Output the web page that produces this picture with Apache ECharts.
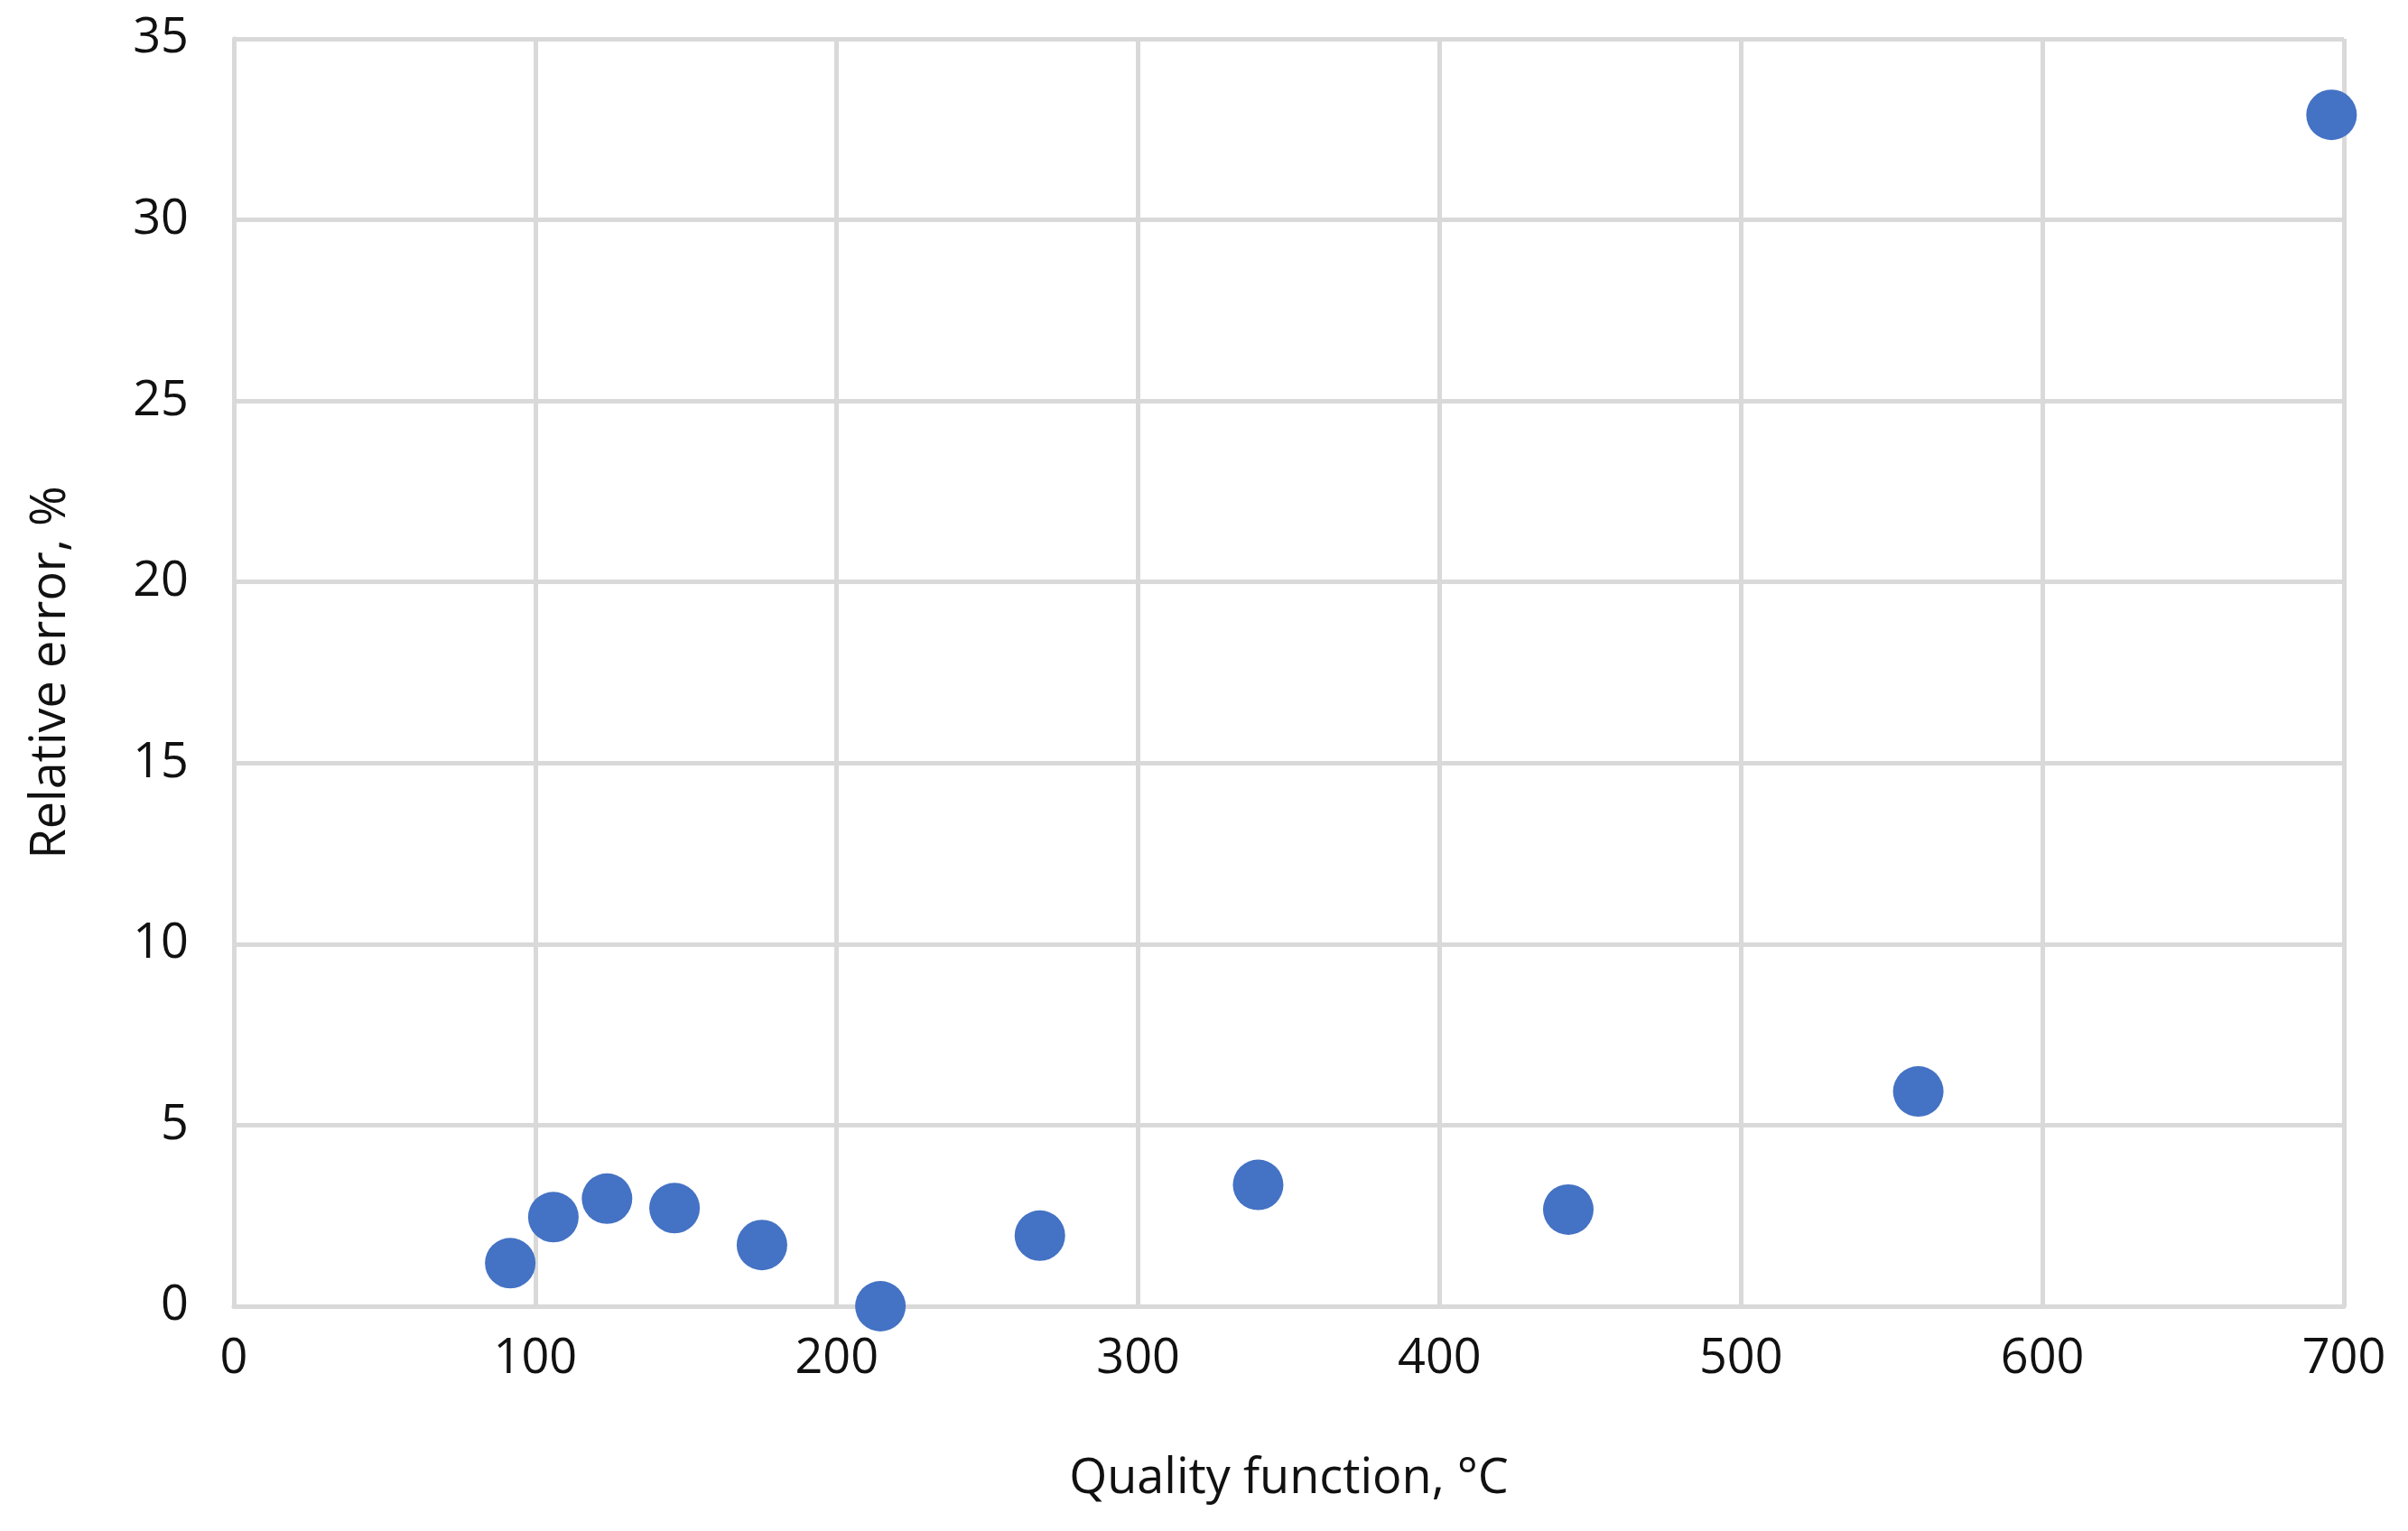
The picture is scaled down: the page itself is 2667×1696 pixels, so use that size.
<!DOCTYPE html>
<html><head><meta charset="utf-8">
<script src="https://cdn.jsdelivr.net/npm/echarts@6/dist/echarts.min.js"></script>
<style>html,body{margin:0;padding:0;background:#fff}#c{width:2667px;height:1696px}</style>
</head><body><div id="c"></div>
<script>
const xValues = [91.7, 106, 123.8, 146.2, 175.2, 214.5, 267.4, 339.8, 442.7, 558.8, 695.9];
const yValues = [1.19, 2.46, 2.97, 2.71, 1.69, 0, 1.95, 3.35, 2.67, 5.93, 32.9];
const xTitle = 'Quality function, °C';
const yTitle = 'Relative error, %';
const chart = echarts.init(document.getElementById('c'));
const font = 'Open Sans';
const txt = '#111';
const grid = {lineStyle:{color:'#d9d9d9',width:5}};
chart.setOption({
  animation:false,
  grid:{left:259,right:71,top:43,bottom:249},
  xAxis:{type:'value',min:0,max:700,interval:100,name:xTitle,nameLocation:'middle',nameGap:165,
    nameTextStyle:{fontFamily:font,fontSize:54,color:txt},
    axisLabel:{fontFamily:font,fontSize:54,color:txt,margin:32},
    axisLine:{show:true,lineStyle:{color:'#d9d9d9',width:5}},axisTick:{show:false},splitLine:{show:true,...grid}},
  yAxis:{type:'value',min:0,max:35,interval:5,name:yTitle,nameLocation:'middle',nameGap:175,
    nameTextStyle:{fontFamily:font,fontSize:54,color:txt},
    axisLabel:{fontFamily:font,fontSize:54,color:txt,margin:50},
    axisLine:{show:true,lineStyle:{color:'#d9d9d9',width:5}},axisTick:{show:false},splitLine:{show:true,...grid}},
  series:[{type:'scatter',symbolSize:56,itemStyle:{color:'#4472c4',opacity:1},
    data:xValues.map((x,i)=>[x,yValues[i]])}]
});
</script></body></html>
